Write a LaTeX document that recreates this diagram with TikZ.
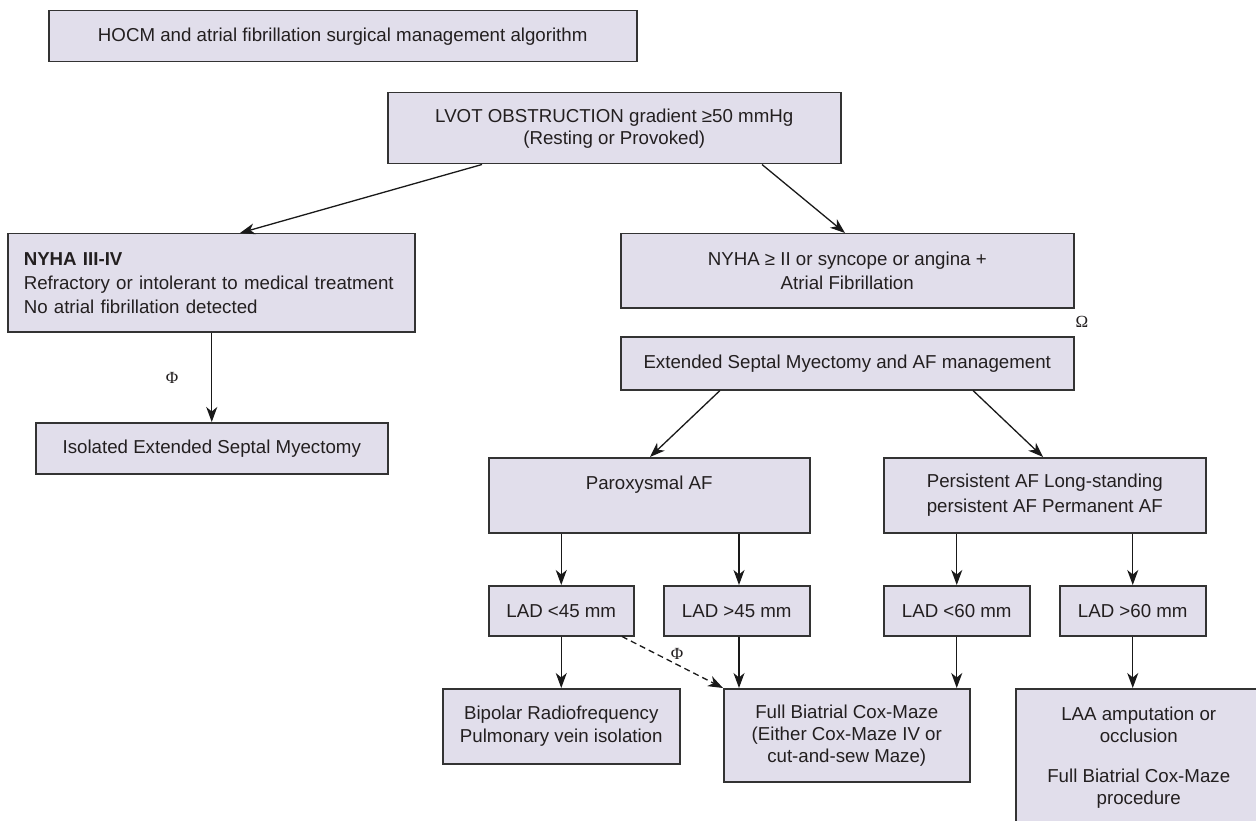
\documentclass[tikz,border=0pt]{standalone}
\usepackage{fontspec}
\setmainfont{Liberation Sans}
\newfontfamily\symserif{Liberation Serif}
\usetikzlibrary{arrows.meta}
\definecolor{boxfill}{RGB}{225,222,235}
\definecolor{boxline}{RGB}{51,51,51}
\definecolor{txt}{RGB}{35,31,32}
\begin{document}
\begin{tikzpicture}[x=1pt,y=-1pt,
  box/.style={draw=boxline, line width=1.5pt, fill=boxfill, text=txt,
    font=\fontsize{18.7}{23}\selectfont, align=center, inner sep=0pt,
    anchor=north west},
  arr/.style={-{Stealth[length=15pt,width=11pt,inset=4.5pt]}, line width=1.3pt, black!90},
  sym/.style={text=txt, font=\symserif\fontsize{17}{17}\selectfont, inner sep=0pt}]
\useasboundingbox (0,0) rectangle (1256,821);
\begin{scope}
\clip (0,0) rectangle (1256,821);
% boxes
\node[box, minimum width=588pt, minimum height=51pt] (title) at (48,10)
  {HOCM and atrial fibrillation surgical management algorithm};
\node[box, minimum width=453pt, minimum height=71pt, font=\fontsize{18.7}{22}\selectfont] (lvot) at (387,92)
  {LVOT OBSTRUCTION gradient ≥50 mmHg\\(Resting or Provoked)};
\node[box, minimum width=407pt, minimum height=98pt, align=left, text width=375pt,
  inner xsep=16pt, font=\fontsize{18.7}{24}\selectfont] (nyha3) at (7,233)
  {\textbf{NYHA III-IV}\\Refractory or intolerant to medical treatment\\No atrial fibrillation detected};
\node[box, minimum width=352pt, minimum height=51pt] (iso) at (35,422)
  {Isolated Extended Septal Myectomy};
\node[box, minimum width=453pt, minimum height=74pt, font=\fontsize{18.7}{24}\selectfont] (nyha2) at (620,233)
  {NYHA ≥ II or syncope or angina +\\Atrial Fibrillation};
\node[box, minimum width=453pt, minimum height=53pt] (ext) at (620,336)
  {Extended Septal Myectomy and AF management};
\node[box, minimum width=321pt, minimum height=75pt, font=\fontsize{18.7}{25}\selectfont] (par) at (488,457)
  {Paroxysmal AF\\\mbox{}};
\node[box, minimum width=322pt, minimum height=75pt, font=\fontsize{18.7}{25}\selectfont] (pers) at (883,457)
  {Persistent AF Long-standing\\persistent AF Permanent AF};
\node[box, minimum width=145pt, minimum height=50pt] (la) at (488,585) {LAD <45 mm};
\node[box, minimum width=146pt, minimum height=50pt] (lb) at (663,585) {LAD >45 mm};
\node[box, minimum width=146pt, minimum height=50pt] (lc) at (883,585) {LAD <60 mm};
\node[box, minimum width=146pt, minimum height=50pt] (ld) at (1059,585) {LAD >60 mm};
\node[box, minimum width=237pt, minimum height=75pt] (bip) at (442,688)
  {Bipolar Radiofrequency\\Pulmonary vein isolation};
\node[box, minimum width=246pt, minimum height=93pt, font=\fontsize{18.7}{22}\selectfont] (full) at (723,688)
  {Full Biatrial Cox-Maze\\(Either Cox-Maze IV or\\cut-and-sew Maze)};
\node[box, minimum width=246pt, minimum height=138pt, font=\fontsize{18.7}{21.5}\selectfont] (laa) at (1015,688)
  {LAA amputation or\\occlusion\\[19pt]Full Biatrial Cox-Maze\\procedure};
% labels
\node[sym] (om) at (1082,322) {Ω};
\node[sym] (phia) at (172,378) {Φ};
\node[sym] (phib) at (677,654) {Φ};
% connectors
\draw[arr] ([xshift=95pt]lvot.south west) -- ([xshift=233pt]nyha3.north west);
\draw[arr] ([xshift=375pt]lvot.south west) -- ([xshift=225pt]nyha2.north west);
\draw[arr] (iso.north |- nyha3.south) -- (iso.north);
\draw[arr] ([xshift=100pt]ext.south west) -- ([xshift=162pt]par.north west);
\draw[arr] ([xshift=353pt]ext.south west) -- ([xshift=160pt]pers.north west);
\draw[arr] (la.north |- par.south) -- (la.north);
\coordinate (pb) at ([xshift=76pt]lb.north west);
\draw[arr] (pb |- par.south) -- (pb);
\draw[arr] (lc.north |- pers.south) -- (lc.north);
\draw[arr] (ld.north |- pers.south) -- (ld.north);
\draw[arr] (la.south) -- (la.south |- bip.north);
\coordinate (pf) at ([xshift=16pt]full.north west);
\draw[arr] (pf |- lb.south) -- (pf);
\draw[arr] (lc.south) -- (lc.south |- full.north);
\draw[arr] (ld.south) -- (ld.south |- laa.north);
\draw[arr, dash pattern=on 6pt off 4pt] ([xshift=134pt]la.south west) -- (full.north west);
\end{scope}
\end{tikzpicture}
\end{document}
